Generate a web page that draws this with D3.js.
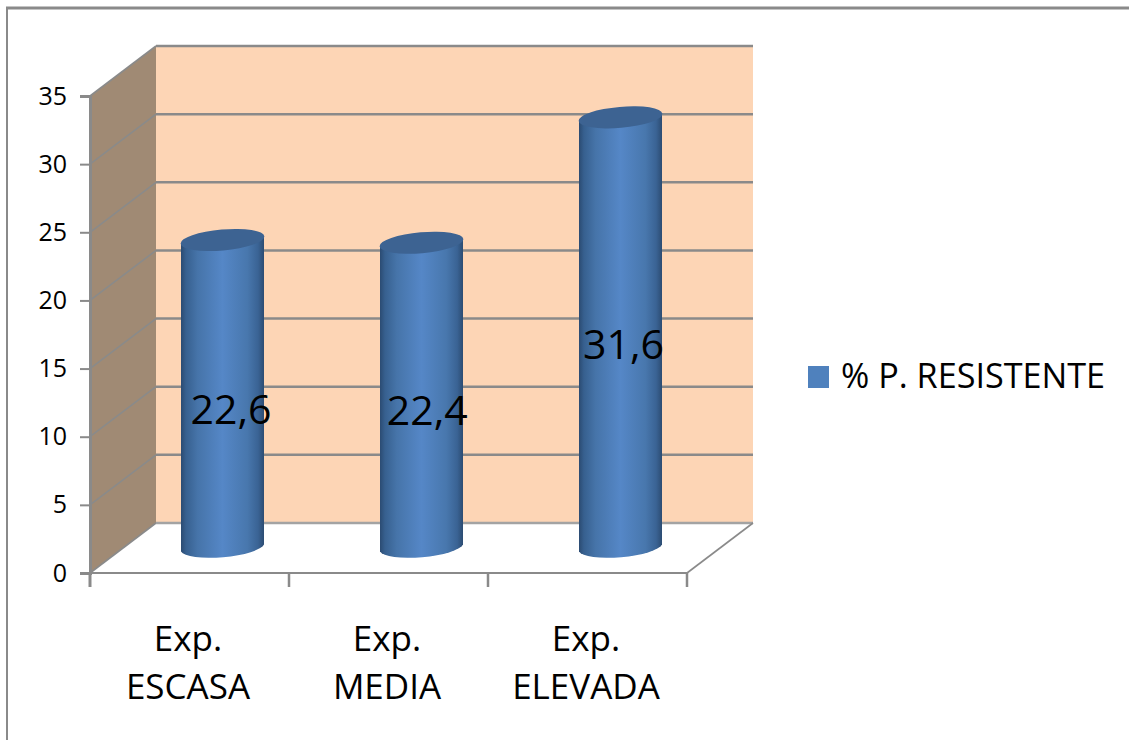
<!DOCTYPE html>
<html>
<head>
<meta charset="utf-8">
<script src="https://cdn.jsdelivr.net/npm/d3@7"></script>
<style>
  html, body { margin: 0; padding: 0; background: #fff; }
  svg { display: block; }
  text { font-family: "Open Sans", sans-serif; fill: #000; }
</style>
</head>
<body>
<div id="chart"></div>
<script>
// Values
const categories = [["Exp.", "ESCASA"], ["Exp.", "MEDIA"], ["Exp.", "ELEVADA"]];
const values = [22.6, 22.4, 31.6];
const valueLabels = ["22,6", "22,4", "31,6"];
const yTicks = [0, 5, 10, 15, 20, 25, 30, 35];
const seriesName = "% P. RESISTENTE";

const width = 1129, height = 740;
const svg = d3.select("#chart").append("svg")
  .attr("width", width)
  .attr("height", height);

// Front plane scales, the back wall is the same thing shifted by depth
const y = d3.scaleLinear().domain([0, 35]).range([573, 96]);
const x = d3.scaleBand().domain(d3.range(categories.length)).range([90, 687]);
const depthX = 66, depthY = -50;
const gray = "#8a8a8a";

// Value labels get their own placement, they drift a little from the bar centres
const labelX = d3.scalePoint().domain(d3.range(categories.length)).range([231, 623.5]);
const labelY = d3.scaleLinear().domain([0, 35]).range([572, 68]);

// Chart frame, only top and left show
svg.append("line")
  .attr("x1", 6).attr("x2", width)
  .attr("y1", 8).attr("y2", 8)
  .attr("stroke", gray)
  .attr("stroke-width", 3);
svg.append("line")
  .attr("x1", 7).attr("x2", 7)
  .attr("y1", 8).attr("y2", height)
  .attr("stroke", gray)
  .attr("stroke-width", 2);

// Gradient for the cylinder sides
const grad = svg.append("defs").append("linearGradient").attr("id", "cyl");
[[0, "#2b4b72"], [0.06, "#37608f"], [0.2, "#4674a9"], [0.5, "#5587c7"],
 [0.8, "#4877ad"], [0.93, "#3a6394"], [1, "#2c4c72"]].forEach(s => {
  grad.append("stop").attr("offset", s[0]).attr("stop-color", s[1]);
});

const x0 = x.range()[0], x1 = x.range()[1];

// Back wall
svg.append("rect")
  .attr("x", x0 + depthX)
  .attr("y", y(35) + depthY)
  .attr("width", x1 - x0)
  .attr("height", y(0) - y(35))
  .attr("fill", "#fdd5b5");

// Side wall
svg.append("path")
  .attr("d", `M${x0},${y(0)}V${y(35)}L${x0 + depthX},${y(35) + depthY}V${y(0) + depthY}Z`)
  .attr("fill", "#a08a74");

// Gridlines on both walls
const grid = svg.append("g")
  .selectAll("g")
  .data(yTicks)
  .join("g");

grid.append("line")
  .attr("x1", x0)
  .attr("y1", d => y(d))
  .attr("x2", x0 + depthX)
  .attr("y2", d => y(d) + depthY)
  .attr("stroke", gray)
  .attr("stroke-width", 1.6);

grid.append("line")
  .attr("x1", x0 + depthX)
  .attr("x2", x1 + depthX)
  .attr("y1", d => y(d) + depthY)
  .attr("y2", d => y(d) + depthY)
  .attr("stroke", d => d === 0 ? "#a3a3a3" : gray)
  .attr("stroke-width", 2.5);

// Right edge of the floor
svg.append("line")
  .attr("x1", x1)
  .attr("y1", y(0))
  .attr("x2", x1 + depthX)
  .attr("y2", y(0) + depthY)
  .attr("stroke", gray)
  .attr("stroke-width", 1.6);

// Axes
const yAxis = svg.append("g")
  .attr("transform", `translate(${x0},0)`)
  .call(d3.axisLeft(y).tickValues(yTicks).tickSize(10).tickPadding(13).tickFormat(d3.format("d")));
yAxis.select(".domain").attr("stroke", gray).attr("stroke-width", 3);
yAxis.selectAll(".tick line").attr("stroke", gray).attr("stroke-width", 2);
yAxis.selectAll("text").style("font-size", "25px");

svg.append("line")
  .attr("x1", x0)
  .attr("x2", x1)
  .attr("y1", y(0))
  .attr("y2", y(0))
  .attr("stroke", gray)
  .attr("stroke-width", 2);

svg.append("g")
  .selectAll("line")
  .data(d3.range(categories.length + 1))
  .join("line")
  .attr("x1", d => x0 + d * x.bandwidth())
  .attr("x2", d => x0 + d * x.bandwidth())
  .attr("y1", y(0))
  .attr("y2", y(0) + 14)
  .attr("stroke", gray)
  .attr("stroke-width", d => d === 0 ? 3 : 2.5);

// Cylinders sit half way into the depth
const rx = 42, ry = 10.5, tilt = -5, slant = 3.6, halfW = 41.5;
const cx = i => x(i) + x.bandwidth() / 2 + depthX / 2;
const cy = v => y(v) + depthY / 2;

const bars = svg.append("g")
  .selectAll("g")
  .data(values)
  .join("g");

bars.append("path")
  .attr("d", (d, i) => {
    const l = cx(i) - halfW, r = cx(i) + halfW;
    return `M${l},${cy(d) + slant}L${l},${cy(0) + slant}` +
      `A${rx},${ry} ${tilt} 0 0 ${r},${cy(0) - slant}` +
      `L${r},${cy(d) - slant}Z`;
  })
  .attr("fill", "url(#cyl)");

bars.append("ellipse")
  .attr("rx", rx)
  .attr("ry", ry)
  .attr("transform", (d, i) => `translate(${cx(i)},${cy(d)}) rotate(${tilt})`)
  .attr("fill", "#3d6392");

// Value labels
bars.append("text")
  .attr("x", (d, i) => labelX(i))
  .attr("y", d => labelY(d / 2))
  .attr("dy", "0.35em")
  .attr("text-anchor", "middle")
  .style("font-size", "41px")
  .text((d, i) => valueLabels[i]);

// Category labels on two lines
const catLabels = svg.append("g")
  .selectAll("text")
  .data(categories)
  .join("text")
  .attr("text-anchor", "middle")
  .style("font-size", "35px");

catLabels.selectAll("tspan")
  .data(d => d)
  .join("tspan")
  .attr("y", (d, i) => 651 + i * 48);
catLabels.each(function(d, i) {
  d3.select(this).selectAll("tspan")
    .attr("x", x(i) + x.bandwidth() / 2 - 1.5)
    .text(t => t);
});

// Legend
const legend = svg.append("g").attr("transform", "translate(808,366)");
legend.append("rect")
  .attr("width", 21)
  .attr("height", 22)
  .attr("fill", "#4f81bd");
legend.append("text")
  .attr("x", 33)
  .attr("y", 22)
  .style("font-size", "34.2px")
  .text(seriesName);
</script>
</body>
</html>
